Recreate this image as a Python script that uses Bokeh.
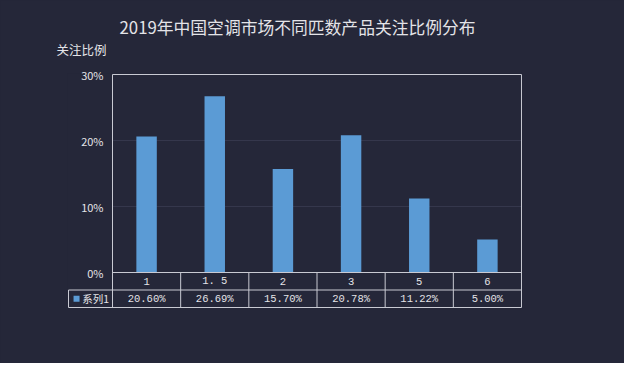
from bokeh.plotting import figure
from bokeh.models import (Range1d, Title, FixedTicker, PrintfTickFormatter)
from bokeh.layouts import column
from bokeh.core.properties import value
from bokeh.embed import file_html
from bokeh.resources import INLINE

# ---- data ----
categories = ["1", "1.5", "2", "3", "5", "6"]
cat_labels = ["1", "1. 5", "2", "3", "5", "6"]
values = [20.60, 26.69, 15.70, 20.78, 11.22, 5.00]
series_name = "系列1"
y_ticks = [0, 10, 20, 30]
title_text = "2019年中国空调市场不同匹数产品关注比例分布"
y_title = "关注比例"

BG = "#252739"
BAR = "#5b9bd5"
LINE = "#c9cad3"
GRID = "#35374c"
TXT = "#e4e4e8"
CJK = "Noto Sans CJK SC"
MONO = "Liberation Mono"

n = len(categories)
ymax = y_ticks[-1]
px = ymax / 198.0           # data units per pixel (vertical)
row_h = 17.5 * px           # table row height in data units
leg_left = -0.6455          # legend cell left edge (in category units)

p = figure(width=624, height=363,
           x_range=Range1d(-0.6602, n + 0.0147),
           y_range=Range1d(-2 * row_h - px, ymax + px),
           output_backend="svg", toolbar_location=None, x_axis_type=None,
           min_border_left=67, min_border_right=102,
           min_border_top=73, min_border_bottom=55)
p.background_fill_color = BG
p.border_fill_color = BG
p.outline_line_color = None
p.grid.grid_line_color = None

# titles
p.add_layout(Title(text=y_title, align="left", offset=-11, text_font=CJK,
                   text_font_size="12.5px", text_color=TXT,
                   text_font_style="normal", standoff=30), "above")
p.add_layout(Title(text=title_text, align="left", offset=52, text_font=CJK,
                   text_font_size="16.8px", text_color=TXT,
                   text_font_style="normal", standoff=-32), "above")

# y axis
ya = p.yaxis[0]
ya.ticker = FixedTicker(ticks=y_ticks)
ya.formatter = PrintfTickFormatter(format="%d%%")
ya.axis_line_color = None
ya.major_tick_line_color = None
ya.minor_tick_line_color = None
ya.major_tick_out = 0
ya.major_tick_in = 0
ya.major_label_standoff = -36
ya.major_label_text_color = TXT
ya.major_label_text_font = CJK
ya.major_label_text_font_size = "11px"

# grid lines inside the plot box
inner = [t for t in y_ticks if 0 < t < ymax]
p.segment(x0=[0] * len(inner), y0=inner, x1=[n] * len(inner), y1=inner,
          line_color=GRID, line_width=1)

# bars
centers = [i + 0.5 for i in range(n)]
p.vbar(x=centers, top=values, width=0.3, color=BAR, line_color=None)

# plot box + table lines
hx0 = [0, 0, 0, leg_left, leg_left]
hx1 = [n, n, n, n, n]
hy = [ymax, 0, 0, -row_h, -2 * row_h]
p.segment(x0=hx0, y0=hy, x1=hx1, y1=hy, line_color=LINE, line_width=1)
vx = [0, n] + list(range(1, n)) + [leg_left]
vy0 = [-2 * row_h, -2 * row_h] + [-2 * row_h] * (n - 1) + [-2 * row_h]
vy1 = [ymax, ymax] + [0] * (n - 1) + [-row_h]
p.segment(x0=vx, y0=vy0, x1=vx, y1=vy1, line_color=LINE, line_width=1)

# table texts
p.text(x=centers, y=[-0.5 * row_h] * n, text=cat_labels, text_align="center",
       text_baseline="middle", text_font=value(MONO), text_font_size="10.5px",
       text_color=TXT)
p.text(x=centers, y=[-1.5 * row_h] * n, text=[f"{v:.2f}%" for v in values],
       text_align="center", text_baseline="middle", text_font=value(MONO),
       text_font_size="10.5px", text_color=TXT)

# legend key in the table
p.scatter(x=[leg_left + 0.118], y=[-1.5 * row_h], marker="square", size=6,
          color=BAR, line_color=None)
p.text(x=[leg_left + 0.2], y=[-1.5 * row_h], text=[series_name],
       text_align="left", text_baseline="middle", text_font=value(CJK),
       text_font_size="10.5px", text_color=TXT)

layout = column(p)
layout.styles = {"background-color": BG}

open("out.html", "w").write(file_html(layout, INLINE))
